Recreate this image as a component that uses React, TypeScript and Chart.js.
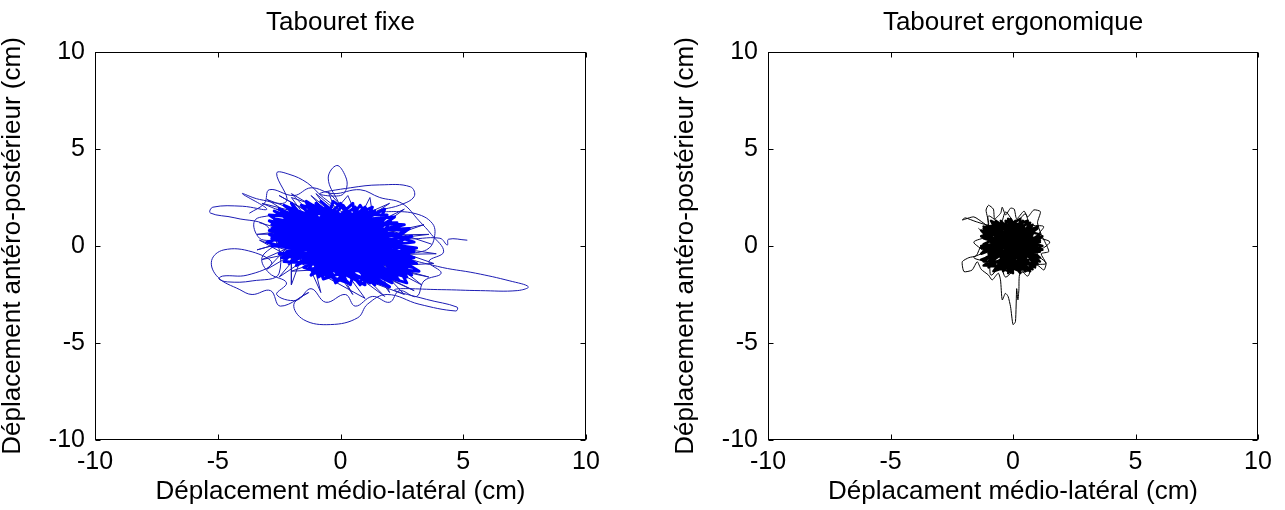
import React, { useEffect, useRef } from "react";
import { Chart, registerables } from "chart.js";

Chart.register(...registerables);

type Pt = [number, number];

// Axis range and tick positions (cm), identical on both panels
const axisMin = -10;
const axisMax = 10;
const tickValues = [-10, -5, 0, 5, 10];

// Panel texts
const titleFixe = "Tabouret fixe";
const titleErgo = "Tabouret ergonomique";
const yTitle = "Déplacement antéro-postérieur (cm)";
const xTitleFixe = "Déplacement médio-latéral (cm)";
const xTitleErgo = "Déplacament médio-latéral (cm)";

// Fixed stool: dense central sway of the centre of pressure (cm)
const fixeCore: Pt[] = [
  [-2.6, 1.6], [2.4, 0.6], [-2.2, -0.3], [1.8, 1.4], [-1.0, -1.4], [2.9, -0.6], [-2.8, 0.9], [1.2, -1.9],
  [-1.6, 2.1], [3.0, 0.2], [-2.4, -0.6], [0.6, 2.0], [2.2, -1.7], [-2.9, 1.3], [1.6, -0.2], [-0.8, 2.3],
  [2.6, -1.2], [-2.0, 0.4], [0.2, -1.7], [-1.2, 1.9], [3.1, -0.9], [-2.5, 1.9], [0.8, -1.2], [2.0, 1.2],
  [-1.8, -1.0], [1.0, 2.0], [2.7, -1.9], [-3.0, 0.2], [0.4, 1.4], [1.4, -2.0], [-2.2, 2.0], [2.5, 0.0],
  [-0.4, -1.6], [-2.6, 0.6], [2.8, 0.9], [-0.2, -1.9], [-1.4, 2.3], [3.2, -1.3], [-2.3, -0.8], [0.0, 2.2],
  [1.9, -1.4], [-2.7, 1.0], [2.2, 1.5], [-1.1, -1.3], [0.9, 1.7], [2.9, -1.5], [-2.0, 1.5], [1.2, -1.6],
  [-0.6, 2.0], [3.0, -0.3], [-2.8, 0.0], [1.6, 1.0], [-1.5, -1.1], [0.3, -1.9], [-2.4, 1.2], [2.4, -0.9],
  [-0.9, 1.8], [1.8, 0.2], [-1.9, -0.6], [2.6, 1.1], [-2.9, 1.6], [0.6, -1.5], [2.0, -2.1], [-1.7, 0.9],
  [1.4, 1.8], [-2.2, -0.1], [2.8, -0.4], [-0.3, 2.3], [-1.2, -0.9], [2.3, -1.6], [-2.6, 0.3], [1.0, 0.4],
  [-1.0, 2.2], [1.7, -1.0], [-2.5, -0.4], [2.9, 0.5], [-0.5, -1.2], [-2.0, 2.2], [0.8, -2.0], [1.5, 1.4],
  [-2.8, 1.1], [2.5, -0.6], [-1.3, -1.2], [0.2, 1.8], [2.1, -1.9], [-2.3, 0.8], [3.1, -0.1], [-0.7, -1.7],
  [-1.6, 1.6], [2.6, -1.4], [-2.1, 0.0], [1.3, 2.0], [0.0, -1.4], [-2.7, 1.4], [2.2, 0.3], [-1.4, -0.7],
  [1.1, -1.8], [-0.8, 1.5], [2.7, 0.4], [-2.4, 1.7], [1.9, 1.6], [-2.1, -0.9], [0.5, 2.2], [1.0, -2.0],
  [-2.9, 0.6], [2.7, -0.1], [-1.3, 2.2], [0.7, -1.8], [-2.6, 1.1], [2.3, 1.2], [-0.6, -1.5], [-1.9, 1.9],
  [2.9, -1.1], [-2.4, 0.0], [1.2, 1.6], [0.4, -2.0], [-2.3, 1.5], [3.0, -0.6], [-1.7, -0.4], [0.1, 2.1],
  [2.4, -1.8], [-2.8, 0.4], [1.7, 0.8], [-0.9, -1.6], [-1.0, 2.0], [2.0, -0.7], [-2.5, 1.3], [2.6, 0.8],
  [-0.2, -1.8], [-1.6, 0.3], [1.3, -1.5], [-0.4, 1.6], [2.8, -0.9], [-2.7, 1.8], [0.9, -0.9], [1.8, 1.9],
  [-2.0, -0.5], [0.6, 1.2], [2.2, -1.2], [-1.4, 1.4], [2.5, 0.2], [-0.8, -1.0], [-2.2, 1.7], [1.5, -1.9],
  [-0.1, 1.3], [3.0, -0.9], [-2.9, 0.8], [1.4, 0.5], [-1.2, -1.5], [0.8, 2.1], [2.7, -1.6], [-2.5, 0.2],
  [1.9, 0.6], [-0.6, 1.9], [0.2, -1.0], [-1.8, 1.2], [2.3, -0.4], [-2.3, 2.1], [1.1, -1.2], [2.1, 1.5],
];

// Fixed stool: thinner strokes around the edge of the dense region
const fixeFringe: Pt[] = [
  [-3.3, 1.2], [0.0, 0.0], [-3.0, 2.4], [1.0, 0.5], [-2.0, 2.7], [0.5, -0.5], [-0.5, 2.8], [1.5, 0.0],
  [1.2, 2.5], [0.0, -0.5], [2.6, 1.9], [-0.5, 0.0], [3.6, 0.6], [-1.0, 0.5], [3.9, -0.4], [-0.5, -0.5],
  [3.6, -1.6], [-1.0, 0.0], [3.0, -2.3], [-1.5, 0.5], [1.8, -2.6], [-1.0, 1.0], [0.5, -2.5], [-1.5, 1.2],
  [-0.8, -2.4], [-2.0, 1.0], [-2.0, -2.0], [-1.0, 1.5], [-3.0, -1.2], [0.0, 1.0], [-3.4, -0.2], [0.5, 1.2],
  [-3.4, 0.6], [1.5, 0.7], [-3.2, 2.2], [2.0, -0.5], [-2.5, 2.6], [2.5, -1.0], [-1.0, 2.7], [2.0, -2.4],
  [0.3, 2.6], [-2.5, -1.6], [2.0, 2.2], [-3.2, -0.7], [3.4, 1.1], [-2.0, -1.3], [3.8, -0.9], [-2.6, 1.9],
  [3.3, -2.0], [-1.2, 2.6], [2.6, -2.5], [-3.3, 0.3], [1.0, -2.7], [-2.0, 2.5], [3.7, 0.1],
];

// Fixed stool: wavy strokes ringing the dense region
const fixeRing: Pt[] = [
  [-2.8, 1.6], [-3.5, 1.3], [-3.3, 0.4], [-2.6, 0.2], [-3.2, -0.6], [-2.9, -1.4], [-2.2, -1.9], [-2.6, -2.5],
  [-1.8, -2.8], [-1.2, -2.2], [-0.6, -2.9], [0.2, -2.5], [0.6, -3.1], [1.3, -2.6], [2.0, -2.9], [2.4, -2.3],
  [3.1, -2.6], [3.4, -1.8], [4.1, -1.4], [3.6, -0.8], [4.2, -0.3], [3.7, 0.6], [3.2, 1.3], [2.5, 2.2],
  [1.6, 2.5], [0.8, 2.9], [-0.3, 2.7], [-1.2, 3.0], [-1.9, 2.6], [-2.9, 2.9], [-3.1, 2.2], [-3.7, 1.7],
];

// Fixed stool: wide excursions (loops) away from the centre
const fixeLoops: Pt[] = [
  [0.4, 1.2], [-0.1, 2.3], [-0.5, 3.5], [-0.15, 4.15], [0.2, 3.6], [0.25, 3.0], [0.0, 2.6], [-0.85, 2.7],
  [0.4, 3.0], [1.6, 3.15], [2.85, 3.05], [3.0, 2.55], [2.4, 2.1], [1.5, 1.8], [2.95, 1.7], [3.75, 1.15],
  [3.8, 0.3], [3.5, -0.2], [2.6, -0.5], [3.95, -1.05], [5.5, -1.4], [6.9, -1.8], [7.65, -2.1], [7.2, -2.3],
  [5.7, -2.3], [4.1, -2.25], [2.2, -2.25], [3.5, -2.75], [4.75, -3.15], [4.7, -3.35], [3.2, -3.0], [1.9, -2.5],
  [1.1, -3.0], [0.7, -3.7], [-0.4, -4.05], [-1.5, -3.8], [-1.9, -3.0], [-1.3, -2.4], [-2.45, -3.1], [-2.85, -2.3],
  [-3.6, -2.5], [-4.1, -2.25], [-5.0, -1.6], [-5.25, -0.75], [-4.75, -0.2], [-3.6, -0.3], [-2.8, -0.9], [-3.8, -1.5],
  [-4.8, -1.55], [-4.95, -1.7], [-4.6, -1.85], [-3.6, -1.8], [-2.5, -1.4], [-2.9, 0.9], [-4.3, 1.45], [-5.3, 1.7],
  [-5.2, 2.0], [-4.0, 2.05], [-3.0, 1.9], [-4.0, 2.7], [-3.3, 2.4], [-2.2, 2.3], [-2.6, 3.75], [-2.1, 3.7],
  [-1.35, 3.25], [-0.7, 2.5], [1.0, 1.0], [2.6, 0.4], [4.05, 0.4], [4.35, 0.05], [4.4, 0.35], [5.15, 0.3],
];

// Ergonomic stool: dense central sway (cm)
const ergoCore: Pt[] = [
  [-1.2, 0.4], [1.0, -0.5], [-0.6, 1.2], [0.3, -1.3], [-1.1, -0.6], [0.9, 0.8], [-0.9, 1.0], [0.6, -1.1],
  [-1.3, -0.1], [1.1, 0.2], [-0.3, 1.3], [-0.2, -1.3], [0.8, 1.1], [-1.2, -0.8], [1.0, -0.9], [-0.8, 1.2],
  [1.1, 0.6], [-1.0, -1.1], [0.4, 1.3], [0.2, -1.2], [-1.3, 0.8], [1.0, -0.2], [-0.5, -1.2], [0.7, 1.2],
  [-1.2, 0.1], [0.9, -1.0], [-0.1, 1.4], [-0.9, -0.9], [1.2, 0.0], [-1.0, 0.9], [0.5, -1.3], [0.1, 1.2],
  [-1.3, -0.4], [0.8, 0.6], [-0.4, -1.3], [-0.7, 1.3], [1.1, -0.6], [-1.1, 0.5], [0.3, 1.4], [0.0, -1.0],
  [-1.2, -1.0], [1.0, 1.0], [-0.8, 0.0], [0.6, -0.8], [-0.3, 1.0], [1.1, -0.3], [-1.0, -0.4], [0.2, 0.9],
  [-0.6, -0.9], [0.9, 0.3], [-1.2, 1.0], [0.5, -0.4], [-0.2, -1.4], [0.4, 0.6], [-1.1, -0.2], [0.7, -1.3],
  [-0.5, 0.6], [1.0, -0.7], [-0.9, 0.4], [0.3, -0.7], [-0.4, 1.1], [-1.1, 1.0], [0.9, -1.1], [-0.2, 1.4],
  [0.0, -1.4], [-1.3, -0.7], [1.2, 0.5], [-0.7, -1.2], [0.6, 1.3], [-1.3, 0.5], [1.1, -0.8], [-0.5, 1.3],
  [0.4, -1.2], [-1.1, -1.0], [1.0, 0.9], [-0.9, 0.2], [0.8, -0.4], [-0.3, -1.1], [0.2, 1.1], [-1.2, -0.3],
  [1.1, 0.3], [-0.6, 1.0], [0.7, -1.0], [-1.0, 0.6], [0.5, 0.9], [-0.8, -1.3], [0.9, -0.6], [-1.2, 0.9],
  [0.3, -1.4], [-0.4, 0.4], [1.0, 0.1], [-0.1, -0.6], [-0.9, 1.3], [0.6, 0.4], [-1.3, 0.0], [0.8, -1.2],
  [-0.2, 0.8], [1.2, -0.2], [-0.7, -0.5], [0.1, 1.3], [-1.0, -0.8],
];

// Ergonomic stool: jagged strokes along the edge of the dense region
const ergoRing: Pt[] = [
  [-1.4, 0.9], [-1.1, 0.5], [-1.6, 0.2], [-1.2, -0.3], [-1.6, -0.6], [-1.0, -0.9], [-0.9, -1.5], [-0.5, -1.1],
  [-0.3, -1.6], [0.2, -1.1], [0.6, -1.55], [0.8, -1.0], [1.35, -0.9], [1.0, -0.4], [1.5, 0.2], [1.0, 0.5],
  [1.25, 1.0], [0.7, 1.1], [0.5, 1.65], [0.1, 1.2], [-0.3, 1.75], [-0.5, 1.2], [-1.0, 1.55], [-1.0, 1.0],
];

// Ergonomic stool: small excursions around the centre
const ergoOuter: Pt[] = [
  [-0.9, 0.9], [-1.19, 1.17], [-1.6, 1.5], [-2.07, 1.34], [-1.95, 1.45], [-1.5, 1.25], [-1.0, 1.1], [-1.1, 1.85],
  [-1.0, 2.1], [-0.8, 1.9], [-0.75, 1.4], [-0.5, 1.7], [-0.44, 2.0], [-0.3, 1.6], [-0.1, 1.95], [0.05, 1.9],
  [0.15, 1.4], [0.45, 1.8], [0.6, 1.5], [0.85, 1.86], [1.12, 1.77], [1.0, 1.2], [1.15, 0.6], [1.33, 0.14],
  [1.46, -0.29], [1.15, -0.4], [1.35, -0.9], [1.26, -1.24], [1.0, -1.0], [0.6, -1.3], [0.28, -1.4], [0.24, -2.27],
  [0.2, -2.78], [0.15, -2.2], [0.1, -3.9], [0.0, -4.05], [-0.1, -3.13], [-0.2, -2.6], [-0.31, -2.44], [-0.44, -2.78],
  [-0.51, -1.75], [-0.6, -1.4], [-0.85, -1.75], [-1.0, -1.5], [-1.3, -1.2], [-1.46, -0.81], [-1.67, -1.24], [-2.0, -1.32],
  [-2.07, -0.81], [-1.8, -0.6], [-1.5, -0.5], [-1.3, 0.0], [-0.8, 0.3],
];

const FONT = "'Liberation Sans', Arial, Helvetica, sans-serif";
const HEIGHT = 510;

// Boxed axes with short inward ticks on all four sides
const boxAxesPlugin = {
  id: "boxAxes",
  afterDraw(chart: any) {
    const { ctx, chartArea: a, scales } = chart;
    const l = Math.round(a.left) + 0.5;
    const r = Math.round(a.right) - 0.5;
    const t = Math.round(a.top) + 0.5;
    const b = Math.round(a.bottom) - 0.5;
    const len = 5;
    ctx.save();
    ctx.strokeStyle = "#000";
    ctx.lineWidth = 1;
    ctx.strokeRect(l, t, r - l, b - t);
    ctx.beginPath();
    for (const v of tickValues) {
      const px = Math.round(scales.x.getPixelForValue(v)) + 0.5;
      ctx.moveTo(px, b);
      ctx.lineTo(px, b - len);
      ctx.moveTo(px, t);
      ctx.lineTo(px, t + len);
      const py = Math.round(scales.y.getPixelForValue(v)) + 0.5;
      ctx.moveTo(l, py);
      ctx.lineTo(l + len, py);
      ctx.moveTo(r, py);
      ctx.lineTo(r - len, py);
    }
    ctx.stroke();
    ctx.restore();
  },
};

type Trace = { pts: Pt[]; color: string; width: number; tension: number; order: number };

type PanelProps = {
  left: number;
  width: number;
  areaLeft: number;
  areaRight: number;
  yTitlePad: number;
  title: string;
  xTitle: string;
  traces: Trace[];
};

function Panel({ left, width, areaLeft, areaRight, yTitlePad, title, xTitle, traces }: PanelProps) {
  const ref = useRef<HTMLCanvasElement | null>(null);

  useEffect(() => {
    if (!ref.current) return;
    const tickFont = { family: FONT, size: 25, lineHeight: 1 };
    const labelFont = { family: FONT, size: 26, lineHeight: 1 };
    const chart = new Chart(ref.current, {
      type: "scatter",
      data: {
        datasets: traces.map((tr) => ({
          data: tr.pts.map(([x, y]) => ({ x, y })),
          showLine: true,
          borderColor: tr.color,
          backgroundColor: tr.color,
          borderWidth: tr.width,
          tension: tr.tension,
          borderJoinStyle: "round" as const,
          borderCapStyle: "round" as const,
          pointRadius: 0,
          pointHoverRadius: 0,
          order: tr.order,
        })),
      },
      options: {
        animation: false,
        responsive: false,
        devicePixelRatio: 1,
        events: [],
        layout: { padding: { left: 0, right: width - areaRight, top: 0, bottom: 0 } },
        plugins: {
          legend: { display: false },
          tooltip: { enabled: false },
          title: {
            display: true,
            text: title,
            color: "#000",
            font: { family: FONT, size: 26, lineHeight: 1, weight: "normal" },
            padding: { top: 10, bottom: 16 },
            fullSize: false,
          },
        },
        scales: {
          x: {
            type: "linear",
            position: "bottom",
            min: axisMin,
            max: axisMax,
            grid: { display: false, drawTicks: false },
            border: { display: false },
            afterBuildTicks: (s: any) => {
              s.ticks = tickValues.map((v) => ({ value: v }));
            },
            ticks: { color: "#000", font: tickFont, padding: 10, maxRotation: 0, autoSkip: false },
            title: { display: true, text: xTitle, color: "#000", font: labelFont, padding: { top: 0, bottom: 5 } },
            afterFit: (s: any) => {
              s.height = 70;
            },
          },
          y: {
            type: "linear",
            position: "left",
            min: axisMin,
            max: axisMax,
            grid: { display: false, drawTicks: false },
            border: { display: false },
            afterBuildTicks: (s: any) => {
              s.ticks = tickValues.map((v) => ({ value: v }));
            },
            ticks: { color: "#000", font: tickFont, padding: 10, autoSkip: false },
            title: { display: true, text: yTitle, color: "#000", font: labelFont, padding: { top: yTitlePad, bottom: 0 } },
            afterFit: (s: any) => {
              s.width = areaLeft;
            },
          },
        },
      },
      plugins: [boxAxesPlugin],
    });
    return () => chart.destroy();
  }, []);

  return (
    <canvas
      ref={ref}
      width={width}
      height={HEIGHT}
      style={{ position: "absolute", left, top: 0, width, height: HEIGHT }}
    />
  );
}

const blueThin = "#1c1cb4";

export default function App() {
  return (
    <div style={{ position: "fixed", left: 0, top: 0, width: 1285, height: HEIGHT, background: "#fff" }}>
      <Panel
        left={0}
        width={642}
        areaLeft={95}
        areaRight={586}
        yTitlePad={0}
        title={titleFixe}
        xTitle={xTitleFixe}
        traces={[
          { pts: fixeCore, color: "#0000ff", width: 3, tension: 0, order: 0 },
          { pts: fixeFringe, color: blueThin, width: 1, tension: 0, order: 1 },
          { pts: fixeRing, color: blueThin, width: 1, tension: 0.4, order: 2 },
          { pts: fixeLoops, color: blueThin, width: 1, tension: 0.4, order: 3 },
        ]}
      />
      <Panel
        left={642}
        width={643}
        areaLeft={126}
        areaRight={616}
        yTitlePad={31}
        title={titleErgo}
        xTitle={xTitleErgo}
        traces={[
          { pts: ergoCore, color: "#000", width: 2.5, tension: 0, order: 0 },
          { pts: ergoRing, color: "#000", width: 1, tension: 0.3, order: 1 },
          { pts: ergoOuter, color: "#000", width: 1, tension: 0.2, order: 2 },
        ]}
      />
    </div>
  );
}
